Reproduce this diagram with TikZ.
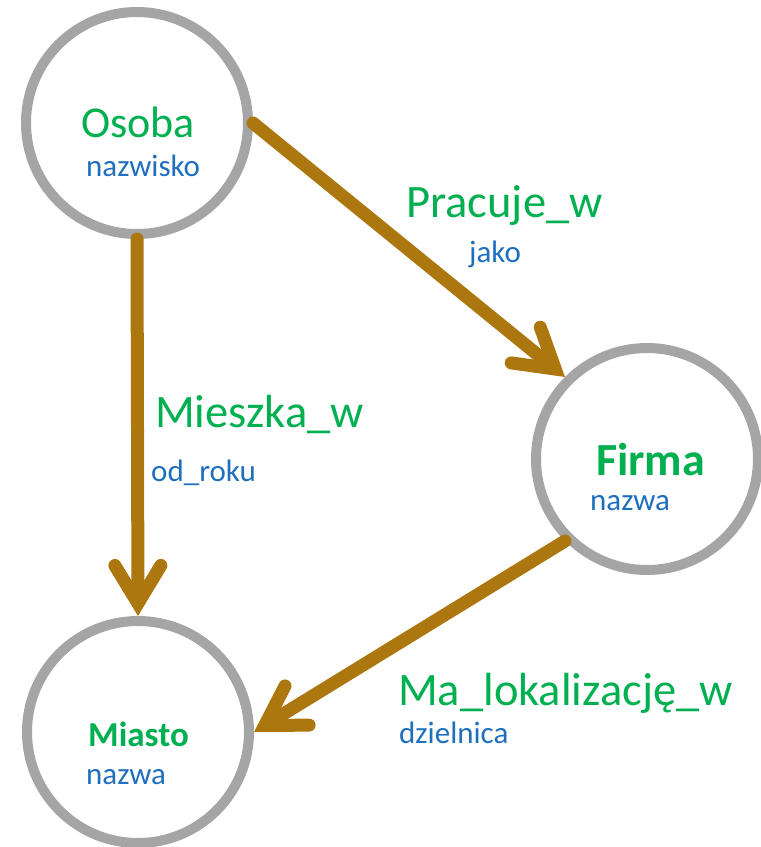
\documentclass[tikz,border=0pt]{standalone}
\usepackage{fontspec}
\setmainfont{Carlito}
\usetikzlibrary{arrows.meta}
\definecolor{ringgray}{HTML}{A5A5A5}
\definecolor{arrowbrown}{HTML}{AD7710}
\definecolor{entgreen}{HTML}{00B050}
\definecolor{attrblue}{HTML}{1F6FBF}
\tikzset{
  entity/.style={circle, draw=ringgray, line width=10pt, minimum size=222pt, inner sep=0pt, fill=white},
  rel/.style={draw=arrowbrown, line width=13pt, line cap=round,
    -{Straight Barb[length=38pt, width=46pt, line cap=round, line join=miter]}},
  ename/.style={anchor=base west, inner sep=0pt, text=entgreen},
  rname/.style={anchor=base west, inner sep=0pt, text=entgreen, font=\fontsize{46.5}{50}\selectfont},
  attr/.style={anchor=base west, inner sep=0pt, text=attrblue, font=\fontsize{31}{35}\selectfont}
}
\begin{document}
\begin{tikzpicture}[x=1pt, y=-1pt]
\useasboundingbox (0,0) rectangle (761,847);
\node[entity] (osoba) at (137,123) {};
\node[entity] (firma) at (647,459) {};
\node[entity] (miasto) at (138,732) {};

\node[ename, font=\fontsize{44}{48}\selectfont] (osobaT) at (81,137) {Osoba};
\node[attr] (osobaA) at (86,176) {nazwisko};
\node[ename, font=\bfseries\fontsize{46}{50}\selectfont] (firmaT) at (596,475) {Firma};
\node[attr] (firmaA) at (590,510) {nazwa};
\node[ename, font=\bfseries\fontsize{35}{40}\selectfont] (miastoT) at (88,746) {Miasto};
\node[attr] (miastoA) at (86,784) {nazwa};

\node[rname] (pracT) at (406,217) {Pracuje\_w};
\node[attr] (pracA) at (469,262) {jako};
\node[rname] (mieszT) at (155,427) {Mieszka\_w};
\node[attr] (mieszA) at (151,481) {od\_roku};
\node[rname] (malokT) at (398,705) {Ma\_lokalizację\_w};
\node[attr] (malokA) at (399,743) {dzielnica};

\draw[rel] (osoba.south) -- (miasto.north);
\draw[rel] (osoba.east) -- (firma.135);
\draw[rel] (firma.225) -- (miasto.east);
\end{tikzpicture}
\end{document}
